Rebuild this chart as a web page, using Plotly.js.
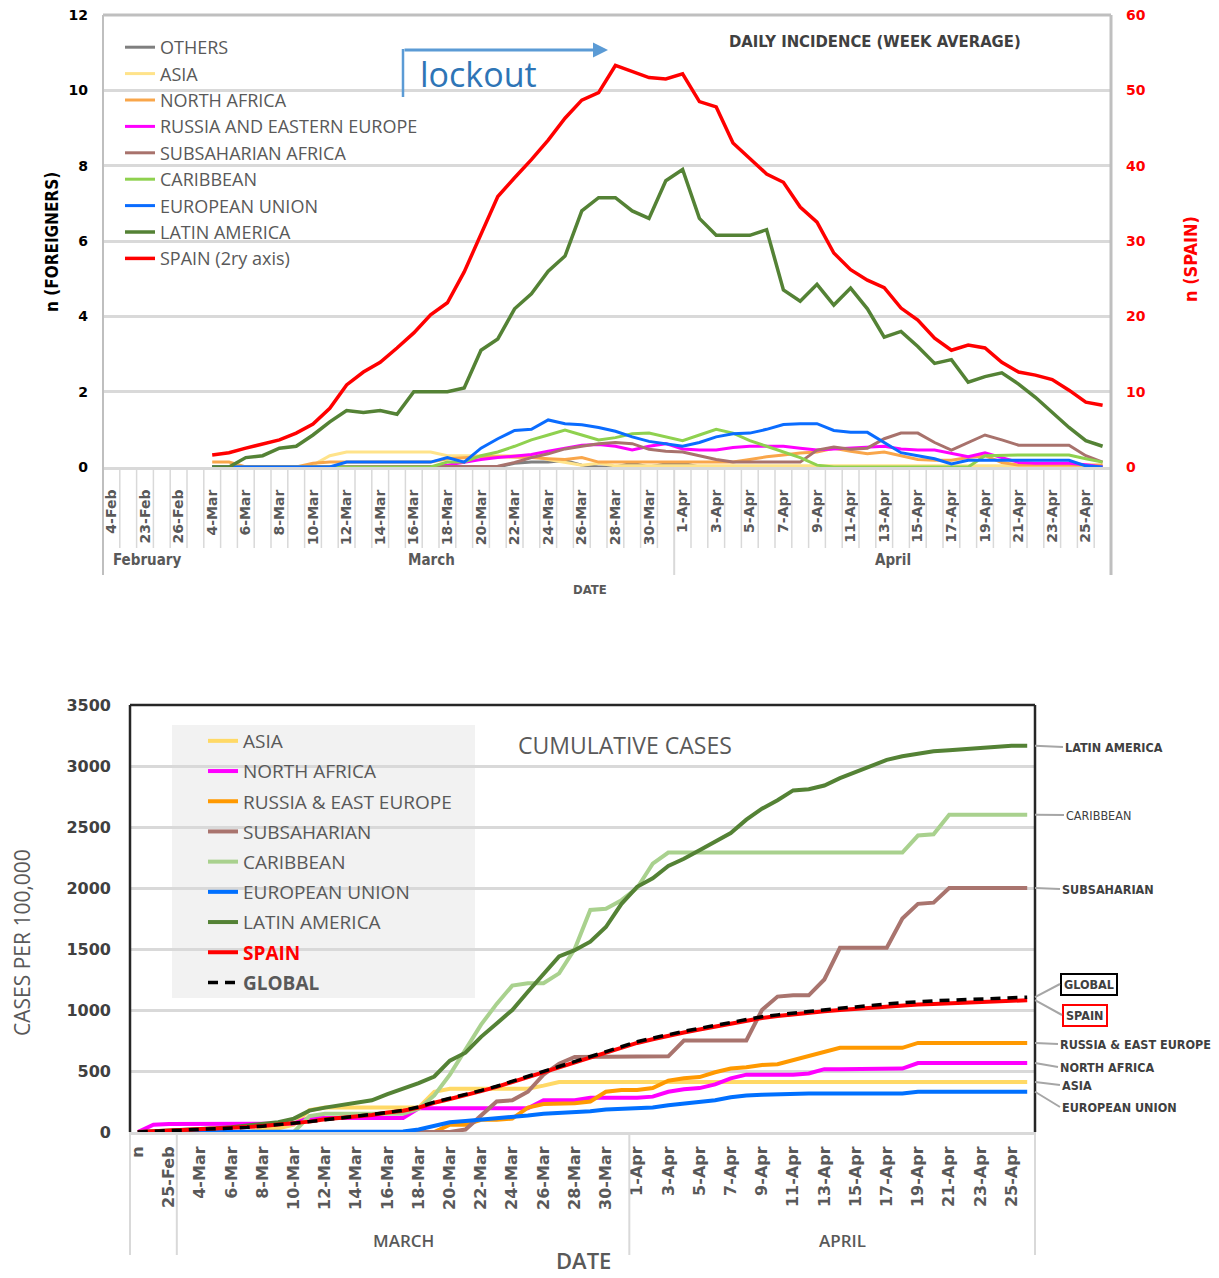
<!DOCTYPE html>
<html>
<head>
<meta charset="utf-8">
<script src="https://cdn.plot.ly/plotly-3.0.1.min.js"></script>
<style>
  html, body { margin: 0; padding: 0; background: #fff; }
  #chart { width: 1219px; height: 1278px; }
</style>
</head>
<body>
<div id="chart"></div>
<script>
const W = 1219, H = 1278;
const px = v => v / W;
const py = v => 1 - v / H;

// ---------- top chart: daily incidence (week average) ----------
const dailyDays = ['4-Feb','22-Feb','23-Feb','25-Feb','26-Feb','3-Mar',
  '4-Mar','5-Mar','6-Mar','7-Mar','8-Mar','9-Mar','10-Mar','11-Mar','12-Mar','13-Mar',
  '14-Mar','15-Mar','16-Mar','17-Mar','18-Mar','19-Mar','20-Mar','21-Mar','22-Mar','23-Mar',
  '24-Mar','25-Mar','26-Mar','27-Mar','28-Mar','29-Mar','30-Mar','31-Mar',
  '1-Apr','2-Apr','3-Apr','4-Apr','5-Apr','6-Apr','7-Apr','8-Apr','9-Apr','10-Apr',
  '11-Apr','12-Apr','13-Apr','14-Apr','15-Apr','16-Apr','17-Apr','18-Apr','19-Apr','20-Apr',
  '21-Apr','22-Apr','23-Apr','24-Apr','25-Apr','26-Apr'];
const dailyLabels = ['4-Feb','23-Feb','26-Feb','4-Mar','6-Mar','8-Mar','10-Mar','12-Mar','14-Mar',
  '16-Mar','18-Mar','20-Mar','22-Mar','24-Mar','26-Mar','28-Mar','30-Mar','1-Apr','3-Apr','5-Apr',
  '7-Apr','9-Apr','11-Apr','13-Apr','15-Apr','17-Apr','19-Apr','21-Apr','23-Apr','25-Apr'];

const dailyOthers = [null,null,null,null,null,null,
  0,0,0,0,0,0,0,0,0,0,0,0,0,0,0,0,0,0,
  0.1,0.13,0.13,0.17,0.05,0,0,0.1,0,0.08,0.1,
  0,0,0,0,0,0,0,0,0,0,0,0,0,0,0,0,0,0,0,0,0,0,0,0,0];
const dailyAsia = [null,null,null,null,null,null,
  0,0,0,0,0,0,
  0.05,0.3,0.4,0.4,0.4,0.4,0.4,0.4,
  0.3,0.3,0.3,0.3,0.3,0.3,
  0.2,0.12,0.05,0.1,
  0.03,0.03,0.03,0.03,0.03,0.03,0.03,0.03,0.03,0.03,
  0.03,0.03,0.03,0.03,0.03,0.03,0.03,0.03,0.03,0.03,
  0.03,0.03,0.03,0.03,0.03,0.03,0.03,0.03,0.03,0.03];
const dailyNAfrica = [null,null,null,null,null,null,
  0.13,0.13,0,0,0,0,
  0.1,0.13,0.13,0.13,0.13,0.13,0.13,0.13,
  0.22,0.25,0.27,0.27,0.27,0.25,0.22,0.2,0.25,
  0.13,0.13,0.13,0.13,0.13,0.13,0.13,0.13,0.13,
  0.2,0.27,0.32,0.37,0.4,0.5,0.42,0.35,0.4,0.3,0.2,0.18,0.18,0.25,0.3,0.12,
  0.05,0.05,0.05,0.05,0.05,0.05];
const dailyRussia = [null,null,null,null,null,null,
  0,0,0,0,0,0,0,0,0,0,0,0,0,0,
  0.05,0.13,0.2,0.25,0.3,0.33,0.42,0.5,0.58,0.6,
  0.55,0.45,0.55,0.62,0.48,0.45,0.45,0.52,0.55,0.55,
  0.55,0.5,0.45,0.48,0.5,0.52,0.55,0.48,0.45,0.45,
  0.35,0.27,0.38,0.24,0.12,0.1,0.1,0.1,0.06,0];
const dailySubsaharan = [null,null,null,null,null,null,
  0,0,0,0,0,0,0,0,0,0,0,0,0,0,0,0,0,
  0.02,0.12,0.25,0.35,0.48,0.55,0.62,
  0.65,0.62,0.47,0.42,0.4,0.3,0.2,0.13,0.13,0.13,
  0.13,0.13,0.45,0.53,0.47,0.5,0.75,0.9,0.9,0.65,
  0.45,0.65,0.85,0.72,0.58,0.58,0.58,0.58,0.3,0.13];
const dailyCaribbean = [null,null,null,null,null,null,
  0,0,0,0,0,0,0,0,0,0,0,0,0,0,
  0.13,0.13,0.3,0.4,0.55,0.72,0.85,0.98,0.85,0.72,
  0.78,0.88,0.9,0.8,0.7,0.85,1.0,0.9,0.7,0.55,
  0.4,0.25,0.05,0,0,0,0,0,0,0,
  0,0,0.3,0.32,0.32,0.32,0.32,0.32,0.22,0.13];
const dailyEU = [null,null,null,null,null,null,
  0,0,0,0,0,0,0,0,
  0.13,0.13,0.13,0.13,0.13,0.13,
  0.25,0.13,0.5,0.75,0.97,1.0,1.25,1.15,1.12,1.05,
  0.95,0.8,0.68,0.62,0.55,0.65,0.8,0.88,0.9,1.0,
  1.13,1.15,1.15,0.97,0.92,0.92,0.65,0.38,0.3,0.22,
  0.08,0.18,0.18,0.18,0.18,0.18,0.18,0.18,0.03,0];
const dailyLatAm = [null,null,null,null,null,null,
  0,0,0.25,0.3,0.5,0.55,0.85,1.2,1.5,1.45,
  1.5,1.4,2.0,2.0,2.0,2.1,3.1,3.4,4.2,4.6,
  5.2,5.6,6.8,7.15,7.15,6.8,6.6,7.6,7.9,6.6,
  6.15,6.15,6.15,6.3,4.7,4.4,4.85,4.3,4.75,4.2,
  3.45,3.6,3.2,2.75,2.85,2.25,2.4,2.5,2.2,1.85,
  1.45,1.05,0.7,0.55];
const dailySpain = [null,null,null,null,null,null,
  1.6,1.9,2.5,3.1,3.6,4.5,5.7,7.8,10.9,12.6,
  13.9,15.8,17.8,20.2,21.8,25.9,30.8,35.9,38.4,40.8,
  43.4,46.3,48.7,49.7,53.3,52.5,51.7,51.5,52.2,48.5,
  47.8,43.0,41.0,38.9,37.8,34.5,32.5,28.4,26.2,24.8,
  23.8,21.1,19.5,17.1,15.5,16.2,15.8,13.9,12.6,12.2,
  11.6,10.2,8.6,8.2];

// ---------- bottom chart: cumulative cases per 100,000 ----------
const cumDays = ['n','24-Feb','25-Feb','3-Mar',
  '4-Mar','5-Mar','6-Mar','7-Mar','8-Mar','9-Mar','10-Mar','11-Mar','12-Mar','13-Mar',
  '14-Mar','15-Mar','16-Mar','17-Mar','18-Mar','19-Mar','20-Mar','21-Mar','22-Mar','23-Mar',
  '24-Mar','25-Mar','26-Mar','27-Mar','28-Mar','29-Mar','30-Mar','31-Mar',
  '1-Apr','2-Apr','3-Apr','4-Apr','5-Apr','6-Apr','7-Apr','8-Apr','9-Apr','10-Apr',
  '11-Apr','12-Apr','13-Apr','14-Apr','15-Apr','16-Apr','17-Apr','18-Apr','19-Apr','20-Apr',
  '21-Apr','22-Apr','23-Apr','24-Apr','25-Apr','26-Apr'];
const cumLabels = ['n','25-Feb','4-Mar','6-Mar','8-Mar','10-Mar','12-Mar','14-Mar','16-Mar',
  '18-Mar','20-Mar','22-Mar','24-Mar','26-Mar','28-Mar','30-Mar','1-Apr','3-Apr','5-Apr','7-Apr',
  '9-Apr','11-Apr','13-Apr','15-Apr','17-Apr','19-Apr','21-Apr','23-Apr','25-Apr'];

const cumAsia = [0,0,0,0,0,0,0,0,20,30,
  60,180,200,200,200,200,200,200,200,330,
  355,355,355,355,355,355,380,410,410,410,
  410,410,410,410,410,410,410,410,410,410,
  410,410,410,410,410,410,410,410,410,410,
  410,410,410,410,410,410,410,410];
const cumNAfrica = [0,60,65,65,65,65,65,65,65,65,
  70,115,115,115,115,115,115,115,195,195,
  195,195,195,195,195,195,260,260,260,280,
  280,280,280,290,330,350,360,390,440,470,
  470,470,470,480,515,515,515,515,515,520,
  565,565,565,565,565,565,565,565];
const cumRussia = [0,0,0,0,0,0,0,0,0,0,
  0,0,0,0,0,0,0,0,0,0,
  60,60,100,100,110,200,230,235,235,250,
  330,345,345,360,420,440,450,490,520,530,
  550,555,590,620,660,690,690,690,690,690,
  730,730,730,730,730,730,730,730];
const cumSubsaharan = [0,0,0,0,0,0,0,0,0,0,
  0,0,0,0,0,0,0,0,0,0,
  0,20,130,250,260,330,470,560,615,615,
  615,615,615,615,620,750,750,750,750,750,
  1000,1110,1120,1120,1250,1510,1510,1510,1510,1750,
  1870,1880,2000,2000,2000,2000,2000,2000];
const cumCaribbean = [0,0,0,0,0,0,0,0,0,0,
  0,130,150,150,150,150,150,150,190,300,
  470,680,880,1050,1200,1220,1220,1300,1500,1820,
  1830,1900,2000,2200,2290,2290,2290,2290,2290,2290,
  2290,2290,2290,2290,2290,2290,2290,2290,2290,2290,
  2430,2440,2600,2600,2600,2600,2600,2600];
const cumEU = [0,0,0,0,0,0,0,0,0,0,
  0,0,0,0,0,0,0,5,20,50,
  80,90,100,115,125,135,150,155,160,170,
  185,190,195,200,220,235,245,260,285,300,
  305,310,315,315,315,315,315,315,315,315,
  330,330,330,330,330,330,330,330];
const cumLatAm = [0,5,10,15,25,30,40,55,70,80,
  110,175,200,220,235,260,310,355,400,455,
  585,650,780,890,1000,1150,1300,1440,1490,1560,
  1680,1870,2010,2080,2180,2240,2310,2380,2450,2560,
  2650,2720,2800,2810,2840,2900,2950,3000,3050,3080,
  3100,3120,3130,3140,3150,3160,3165,3165];
const cumSpain = [0,5,10,15,20,25,32,40,50,60,
  75,85,105,115,130,140,160,175,200,240,
  270,300,335,370,410,450,490,530,570,610,
  650,695,730,760,790,815,840,865,890,915,
  935,950,965,980,990,1000,1010,1020,1030,1040,
  1045,1050,1055,1060,1065,1070,1075,1080];
const cumGlobal = [0,5,10,15,20,25,30,38,48,58,
  72,85,100,115,130,140,160,178,205,245,
  275,305,340,375,415,455,495,535,575,615,
  655,700,740,770,800,825,850,875,900,925,
  945,960,975,990,1005,1015,1025,1040,1050,1060,
  1070,1075,1080,1085,1090,1095,1100,1105];

// ---------- traces ----------
function daily(name, y, color, width, yaxis) {
  return { x: dailyDays, y: y, name: name, type: 'scatter', mode: 'lines',
    xaxis: 'x', yaxis: yaxis || 'y', legend: 'legend', legendgroup: 'd' + name,
    line: { color: color, width: width }, connectgaps: false };
}
function cum(name, y, color, width, dash) {
  return { x: cumDays, y: y, name: name, type: 'scatter', mode: 'lines',
    xaxis: 'x2', yaxis: 'y3', legend: 'legend2', legendgroup: 'c' + name,
    line: { color: color, width: width, dash: dash || 'solid' } };
}

const data = [
  daily('OTHERS', dailyOthers, '#7F7F7F', 3),
  daily('ASIA', dailyAsia, '#FFE38A', 3),
  daily('NORTH AFRICA', dailyNAfrica, '#F9A64A', 3),
  daily('RUSSIA AND EASTERN EUROPE', dailyRussia, '#FF00FF', 3),
  daily('SUBSAHARIAN AFRICA', dailySubsaharan, '#A8726C', 3),
  daily('CARIBBEAN', dailyCaribbean, '#8FD14F', 3),
  daily('EUROPEAN UNION', dailyEU, '#0A6CFF', 3),
  daily('LATIN AMERICA', dailyLatAm, '#548235', 3.5),
  daily('SPAIN (2ry axis)', dailySpain, '#FF0000', 3.5, 'y2'),

  cum('ASIA', cumAsia, '#FFD966', 4),
  cum('NORTH AFRICA', cumNAfrica, '#FF00FF', 4),
  cum('RUSSIA &amp; EAST EUROPE', cumRussia, '#FF9900', 4),
  cum('SUBSAHARIAN', cumSubsaharan, '#A9746E', 4),
  cum('CARIBBEAN', cumCaribbean, '#A9D18E', 4),
  cum('EUROPEAN UNION', cumEU, '#0070FF', 4),
  cum('LATIN AMERICA', cumLatAm, '#548235', 4),
  cum('<b><span style="color:#FF0000">SPAIN</span></b>', cumSpain, '#FF0000', 4),
  cum('<b>GLOBAL</b>', cumGlobal, '#000000', 3.5, '10px,7px')
];

// ---------- decorations ----------
const shapes = [];
function vline(x, y0, y1, color, width) {
  shapes.push({ type: 'line', xref: 'paper', yref: 'paper', x0: px(x), x1: px(x),
    y0: py(y0), y1: py(y1), line: { color: color, width: width } });
}
function hline(x0, x1, y, color, width) {
  shapes.push({ type: 'line', xref: 'paper', yref: 'paper', x0: px(x0), x1: px(x1),
    y0: py(y), y1: py(y), line: { color: color, width: width } });
}

// top frame + category separators
const topL = 103, topR = 1111, topCell = (topR - topL) / dailyDays.length;
for (let k = 1; k < dailyDays.length; k++) {
  if (dailyDays[k] === '1-Apr') vline(topL + k * topCell, 467, 575, '#D9D9D9', 2);
  else vline(topL + k * topCell, 467, 548, '#D9D9D9', 1.5);
}
hline(topL, topR, 15, '#BFBFBF', 3);
vline(topL, 15, 575, '#BFBFBF', 2);
vline(topR, 15, 575, '#BFBFBF', 3);
vline(403, 49, 97, '#5B9BD5', 2.5);

// bottom frame + group dividers
const botL = 130, botR = 1035, botT = 705, botB = 1132, botCell = (botR - botL) / cumDays.length;
vline(botL, botB, 1255, '#D9D9D9', 2);
vline(botL + cumDays.indexOf('3-Mar') * botCell, botB, 1255, '#D9D9D9', 2);
vline(botL + cumDays.indexOf('1-Apr') * botCell, botB, 1255, '#D9D9D9', 2);
vline(botR, botB, 1255, '#D9D9D9', 2);
hline(botL, botR, botT, '#262626', 2.5);
vline(botL, botT, botB, '#262626', 2.5);
vline(botR, botT, botB, '#262626', 2.5);

// legend panel of the cumulative chart (above gridlines, below traces)
const idxAt = x => (x - botL) / botCell - 0.5;
const valAt = y => (botB - y) * 3500 / (botB - botT);
shapes.push({ type: 'rect', xref: 'x2', yref: 'y3', layer: 'below',
  x0: idxAt(172), x1: idxAt(475), y0: valAt(998), y1: valAt(725),
  fillcolor: '#F2F2F2', line: { width: 0 } });

const narrow = 'DejaVu Sans Condensed, DejaVu Sans, sans-serif';
const notes = [
  { text: 'lockout', x: px(418), y: py(74), xanchor: 'left',
    font: { family: 'Open Sans', size: 34, color: '#2E75B6' } },
  { text: '', x: px(608), y: py(50), ax: -205, ay: 0, showarrow: true,
    arrowhead: 2, arrowsize: 1, arrowwidth: 3, arrowcolor: '#5B9BD5' },
  { text: '<b>DAILY INCIDENCE (WEEK AVERAGE)</b>', x: px(875), y: py(41),
    font: { family: narrow, size: 16.5, color: '#404040' } },
  { text: '<b>n (FOREIGNERS)</b>', x: px(52), y: py(242), textangle: -90,
    font: { family: narrow, size: 17, color: '#000' } },
  { text: '<b>n (SPAIN)</b>', x: px(1190), y: py(259), textangle: -90,
    font: { family: narrow, size: 18, color: '#FF0000' } },
  { text: '<b>February</b>', x: px(147), y: py(560), font: { family: narrow, size: 15, color: '#595959' } },
  { text: '<b>March</b>', x: px(431), y: py(560), font: { family: narrow, size: 15, color: '#595959' } },
  { text: '<b>April</b>', x: px(893), y: py(560), font: { family: narrow, size: 15, color: '#595959' } },
  { text: '<b>DATE</b>', x: px(590), y: py(589), font: { family: narrow, size: 13, color: '#595959' } },

  { text: 'CUMULATIVE CASES', x: px(625), y: py(745),
    font: { family: 'Open Sans', size: 23, color: '#595959' } },
  { text: 'CASES PER 100,000', x: px(22), y: py(943), textangle: -90,
    font: { family: 'Open Sans', size: 21, color: '#595959' } },
  { text: 'MARCH', x: px(403), y: py(1240), font: { family: 'Open Sans', size: 17, color: '#595959', weight: 600 } },
  { text: 'APRIL', x: px(843), y: py(1240), font: { family: 'Open Sans', size: 17, color: '#595959', weight: 600 } },
  { text: 'DATE', x: px(583), y: py(1260), font: { family: 'Open Sans', size: 22, color: '#595959', weight: 600 } }
];

// end-of-line labels of the cumulative chart
const yPix = v => botB - v * (botB - botT) / 3500;
const endLabels = [
  ['<b>LATIN AMERICA</b>', cumLatAm, 1063, 747, null],
  ['CARIBBEAN', cumCaribbean, 1064, 815, null],
  ['<b>SUBSAHARIAN</b>', cumSubsaharan, 1060, 889, null],
  ['<b>GLOBAL</b>', cumGlobal, 1060, 984, '#000000'],
  ['<b>SPAIN</b>', cumSpain, 1062, 1015, '#FF0000'],
  ['<b>RUSSIA &amp; EAST EUROPE</b>', cumRussia, 1058, 1044, null],
  ['<b>NORTH AFRICA</b>', cumNAfrica, 1058, 1067, null],
  ['<b>ASIA</b>', cumAsia, 1060, 1085, null],
  ['<b>EUROPEAN UNION</b>', cumEU, 1060, 1107, null]
];
endLabels.forEach(([text, series, lx, ly, box]) => {
  const v = series[series.length - 1];
  notes.push({ text: text, xref: 'paper', yref: 'y3', x: px(botR), y: v,
    ax: lx - botR, ay: ly - yPix(v), xanchor: 'left', showarrow: true,
    arrowhead: 0, arrowwidth: 2, arrowcolor: '#A6A6A6', standoff: 0,
    bordercolor: box || 'rgba(0,0,0,0)', borderwidth: box ? 2 : 0, borderpad: 2,
    font: { family: narrow, size: 12.5, color: '#404040' } });
});

const annotations = notes.map(n => Object.assign(
  { xref: 'paper', yref: 'paper', showarrow: false, xanchor: 'center', yanchor: 'middle' }, n));

const tickFont = size => ({ family: 'DejaVu Sans, sans-serif', size: size, color: '#595959', weight: 'bold' });

const layout = {
  width: W, height: H,
  margin: { l: 0, r: 0, t: 0, b: 0 },
  paper_bgcolor: '#fff', plot_bgcolor: 'rgba(0,0,0,0)',
  font: { family: 'Open Sans', color: '#595959' },
  xaxis: {
    domain: [px(topL), px(topR)], anchor: 'y', type: 'category',
    categoryorder: 'array', categoryarray: dailyDays, range: [-0.5, dailyDays.length - 0.5],
    tickmode: 'array', tickvals: dailyDays,
    ticktext: dailyDays.map(d => dailyLabels.includes(d) ? d : ''),
    tickangle: -90, tickfont: tickFont(14), ticks: '', ticklabelstandoff: 14,
    showline: true, linecolor: '#D9D9D9', linewidth: 3,
    showgrid: false, zeroline: false, automargin: false
  },
  yaxis: {
    domain: [py(467), py(15)], anchor: 'x', range: [0, 12], tick0: 0, dtick: 2,
    showgrid: true, gridcolor: '#D9D9D9', gridwidth: 3, zeroline: false, showline: false,
    ticks: '', ticklabelstandoff: 14, automargin: false,
    tickfont: { family: 'DejaVu Sans, sans-serif', size: 14, color: '#000', weight: 'bold' }
  },
  yaxis2: {
    overlaying: 'y', side: 'right', anchor: 'x', range: [0, 60], tick0: 0, dtick: 10,
    showgrid: false, zeroline: false, showline: false, ticks: '', ticklabelstandoff: 14,
    automargin: false,
    tickfont: { family: 'DejaVu Sans, sans-serif', size: 14, color: '#FF0000', weight: 'bold' }
  },
  xaxis2: {
    domain: [px(botL), px(botR)], anchor: 'y3', type: 'category',
    categoryorder: 'array', categoryarray: cumDays, range: [-0.5, cumDays.length - 0.5],
    tickmode: 'array', tickvals: cumDays,
    ticktext: cumDays.map(d => cumLabels.includes(d) ? d : ''),
    tickangle: -90, tickfont: tickFont(16), ticks: '', ticklabelstandoff: 5,
    showline: true, linecolor: '#D9D9D9', linewidth: 3,
    showgrid: false, zeroline: false, automargin: false
  },
  yaxis3: {
    domain: [py(botB), py(botT)], anchor: 'x2', range: [0, 3500], tick0: 0, dtick: 500,
    showgrid: true, gridcolor: '#D9D9D9', gridwidth: 3, zeroline: false, showline: false,
    ticks: '', ticklabelstandoff: 18, automargin: false,
    tickfont: { family: 'DejaVu Sans, sans-serif', size: 16, color: '#404040', weight: 'bold' }
  },
  legend: {
    x: px(120), y: py(29), xanchor: 'left', yanchor: 'top',
    bgcolor: 'rgba(0,0,0,0)', borderwidth: 0, traceorder: 'grouped', tracegroupgap: 0,
    font: { family: 'Open Sans', size: 18, color: '#595959' }
  },
  legend2: {
    x: px(203), y: py(722), xanchor: 'left', yanchor: 'top',
    bgcolor: 'rgba(0,0,0,0)', borderwidth: 0, traceorder: 'grouped', tracegroupgap: 2.5,
    font: { family: 'Open Sans', size: 19, color: '#595959' }
  },
  shapes: shapes,
  annotations: annotations
};

Plotly.newPlot('chart', data, layout, { displayModeBar: false, staticPlot: true });
</script>
</body>
</html>
